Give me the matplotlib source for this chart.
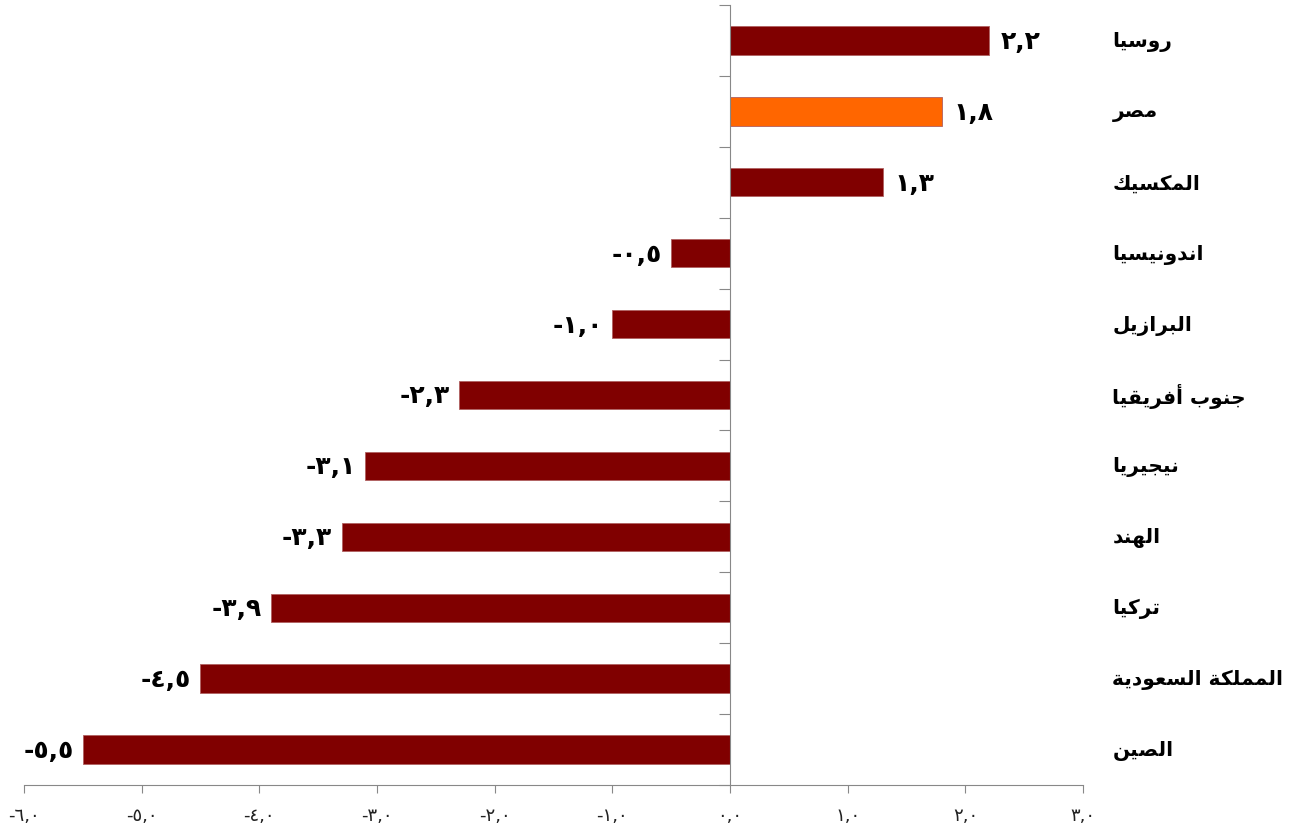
import numpy as np
import matplotlib
matplotlib.use("Agg")
import matplotlib.pyplot as plt

# data (top to bottom)
countries = ["روسيا", "مصر", "المكسيك", "اندونيسيا", "البرازيل", "جنوب أفريقيا",
             "نيجيريا", "الهند", "تركيا", "المملكة السعودية", "الصين"]
values = [2.2, 1.8, 1.3, -0.5, -1.0, -2.3, -3.1, -3.3, -3.9, -4.5, -5.5]
highlight = "مصر"
xticks = [-6, -5, -4, -3, -2, -1, 0, 1, 2, 3]

# arabic contextual forms: isolated, final, initial, medial
forms = {
    "ا": (0xFE8D, 0xFE8E, None, None), "أ": (0xFE83, 0xFE84, None, None),
    "ب": (0xFE8F, 0xFE90, 0xFE91, 0xFE92), "ة": (0xFE93, 0xFE94, None, None),
    "ت": (0xFE95, 0xFE96, 0xFE97, 0xFE98), "ج": (0xFE9D, 0xFE9E, 0xFE9F, 0xFEA0),
    "د": (0xFEA9, 0xFEAA, None, None), "ر": (0xFEAD, 0xFEAE, None, None),
    "ز": (0xFEAF, 0xFEB0, None, None), "س": (0xFEB1, 0xFEB2, 0xFEB3, 0xFEB4),
    "ص": (0xFEB9, 0xFEBA, 0xFEBB, 0xFEBC), "ع": (0xFEC9, 0xFECA, 0xFECB, 0xFECC),
    "ف": (0xFED1, 0xFED2, 0xFED3, 0xFED4), "ق": (0xFED5, 0xFED6, 0xFED7, 0xFED8),
    "ك": (0xFED9, 0xFEDA, 0xFEDB, 0xFEDC), "ل": (0xFEDD, 0xFEDE, 0xFEDF, 0xFEE0),
    "م": (0xFEE1, 0xFEE2, 0xFEE3, 0xFEE4), "ن": (0xFEE5, 0xFEE6, 0xFEE7, 0xFEE8),
    "ه": (0xFEE9, 0xFEEA, 0xFEEB, 0xFEEC), "و": (0xFEED, 0xFEEE, None, None),
    "ي": (0xFEF1, 0xFEF2, 0xFEF3, 0xFEF4),
}


def shape(s):
    out = []
    for i, c in enumerate(s):
        if c not in forms:
            out.append(c)
            continue
        prev = s[i - 1] if i > 0 else ""
        nxt = s[i + 1] if i + 1 < len(s) else ""
        jp = prev in forms and forms[prev][2] is not None
        jn = nxt in forms and forms[c][2] is not None
        f = forms[c]
        if jp and jn:
            out.append(chr(f[3]))
        elif jp:
            out.append(chr(f[1]))
        elif jn:
            out.append(chr(f[2]))
        else:
            out.append(chr(f[0]))
    return "".join(out)[::-1]


def arnum(v, nd=1):
    s = f"{abs(v):.{nd}f}".replace(".", ",")
    s = s.translate(str.maketrans("0123456789", "٠١٢٣٤٥٦٧٨٩"))
    return ("-" if v < 0 else "") + s


plt.rcParams['font.family'] = ['DejaVu Sans']

fig = plt.figure(figsize=(12.96, 8.38), dpi=100)
ax = fig.add_axes([0.0185, 0.0632, 0.8172, 0.9308])

y = np.arange(len(countries))[::-1]
colors = ["#FF6600" if c == highlight else "#800000" for c in countries]
ax.barh(y, values, height=0.4, color=colors, edgecolor="#b06060", linewidth=0.6, zorder=2)

ax.set_xlim(-6, 3)
ax.set_ylim(-0.5, len(countries) - 0.5)

for yi, v, c in zip(y, values, countries):
    if v >= 0:
        ax.text(v + 0.1, yi - 0.02, arnum(v), ha="left", va="center", fontsize=18, fontweight="bold")
    else:
        ax.text(v - 0.08, yi - 0.02, arnum(v), ha="right", va="center", fontsize=18, fontweight="bold")
    ax.text(3.25, yi - 0.02, shape(c), ha="left", va="center", fontsize=14.5, fontweight="bold",
            clip_on=False)

for s in ["top", "right"]:
    ax.spines[s].set_visible(False)
ax.spines["left"].set_position(("data", 0))
ax.spines["left"].set_color("#888888")
ax.spines["bottom"].set_color("#888888")

ax.set_yticks(np.arange(-0.5, len(countries), 1.0))
ax.set_yticklabels([])
ax.tick_params(axis="y", direction="out", length=8, color="#888888")

ax.set_xticks(xticks)
ax.set_xticklabels([arnum(t) for t in xticks])
ax.tick_params(axis="x", direction="out", length=6, color="#888888", labelsize=13,
               labelcolor="#222222", pad=10)

fig.savefig("out.png", dpi=100)
